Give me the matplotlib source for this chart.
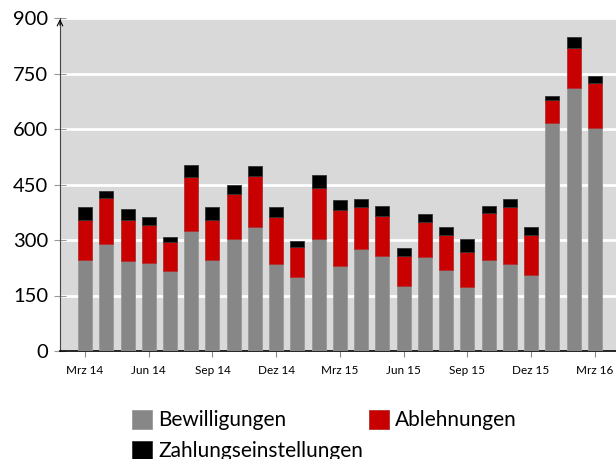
import numpy as np
import matplotlib
matplotlib.use('Agg')
import matplotlib.pyplot as plt

plt.rcParams['font.family'] = ['Lato', 'DejaVu Sans']

# Monate Mrz 14 .. Mrz 16
monate = ['Mrz 14', 'Apr 14', 'Mai 14', 'Jun 14', 'Jul 14', 'Aug 14', 'Sep 14', 'Okt 14', 'Nov 14', 'Dez 14',
          'Jan 15', 'Feb 15', 'Mrz 15', 'Apr 15', 'Mai 15', 'Jun 15', 'Jul 15', 'Aug 15', 'Sep 15', 'Okt 15',
          'Nov 15', 'Dez 15', 'Jan 16', 'Feb 16', 'Mrz 16']
bewilligungen = [246, 288, 243, 238, 216, 323, 246, 302, 334, 235, 201, 302, 231,
                 275, 258, 176, 253, 219, 174, 245, 236, 206, 616, 710, 604]
ablehnungen = [108, 125, 111, 103, 79, 147, 108, 123, 138, 126, 79, 139, 150,
               115, 108, 82, 97, 95, 94, 128, 153, 108, 63, 110, 119]
zahlungseinstellungen = [34, 19, 29, 22, 13, 33, 34, 25, 28, 28, 16, 35, 27,
                         21, 26, 20, 20, 21, 36, 19, 22, 20, 11, 28, 21]
tick_labels = ['Mrz 14', 'Jun 14', 'Sep 14', 'Dez 14', 'Mrz 15', 'Jun 15', 'Sep 15', 'Dez 15', 'Mrz 16']

x = np.arange(len(monate))
b = np.array(bewilligungen)
a = np.array(ablehnungen)
z = np.array(zahlungseinstellungen)

fig = plt.figure(figsize=(6.16, 4.59), dpi=100)
ax = fig.add_axes([60/616, 108/459, 1 - 60/616, 333/459])
ax.set_facecolor('#d9d9d9')

w = 0.66
h1 = ax.bar(x, b, w, color='#878787', edgecolor='#9a9a9a', linewidth=0.6, label='Bewilligungen', zorder=3)
h2 = ax.bar(x, a, w, bottom=b, color='#c80000', edgecolor='#b03030', linewidth=0.6, label='Ablehnungen', zorder=3)
h3 = ax.bar(x, z, w, bottom=b + a, color='#000000', edgecolor='#333333', linewidth=0.6, label='Zahlungseinstellungen', zorder=3)

ax.set_ylim(0, 900)
ax.set_xlim(-1.18, 25.0)
ax.set_yticks(np.arange(0, 901, 150))
ax.yaxis.grid(True, color='white', linewidth=2)
ax.set_axisbelow(True)

ax.set_xticks(x[::3])
ax.set_xticklabels(tick_labels, fontsize=8.5)
ax.tick_params(axis='x', direction='out', length=4, color='#888888', pad=6)
ax.tick_params(axis='y', direction='inout', length=9, color='#999999', labelsize=14.5, pad=4)

for s in ['top', 'right']:
    ax.spines[s].set_visible(False)
ax.spines['left'].set_color('#444444')
ax.spines['left'].set_linewidth(0.8)
ax.spines['bottom'].set_color('black')
ax.spines['bottom'].set_linewidth(1.2)
ax.annotate('', xy=(0, 1.005), xytext=(0, 0.97), xycoords='axes fraction',
            arrowprops=dict(arrowstyle='->', color='black', lw=0.8))

fig.legend([h1, h3, h2], ['Bewilligungen', 'Zahlungseinstellungen', 'Ablehnungen'],
           loc='upper left', bbox_to_anchor=(132/616, 1 - 410/459), ncol=2, frameon=False,
           fontsize=15, handlelength=0.95, handleheight=1.0, handletextpad=0.3,
           columnspacing=0.3, labelspacing=0.5, borderaxespad=0, borderpad=0)

plt.savefig('out.png', dpi=100)
plt.close()
